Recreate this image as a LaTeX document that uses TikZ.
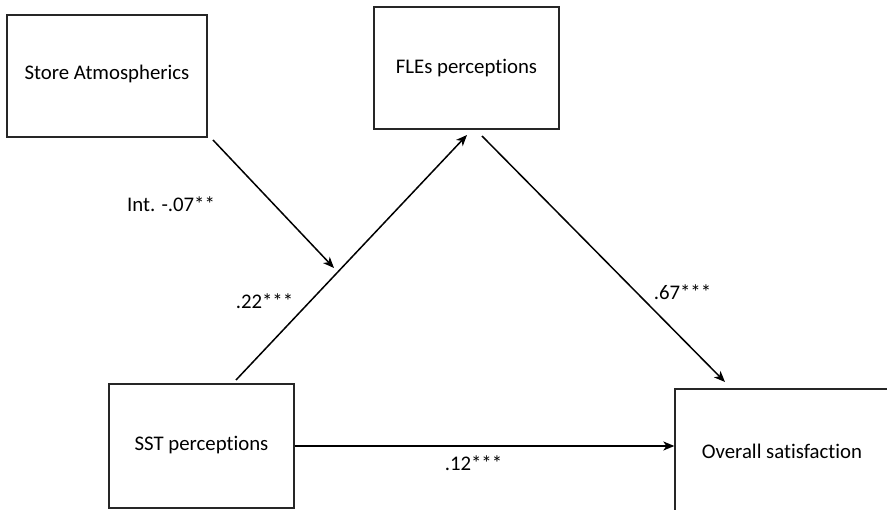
\documentclass[tikz,border=0pt]{standalone}
\usepackage{fontspec}
\setmainfont{Carlito}[Ligatures={NoCommon,NoRare,NoContextual}]
\usetikzlibrary{arrows.meta,calc}
\begin{document}
\begin{tikzpicture}[x=1pt,y=-1pt,
  box/.style={draw=black!85,line width=1.3pt,inner sep=0pt,font=\fontsize{20.8}{25}\selectfont},
  lbl/.style={inner sep=0pt,font=\fontsize{20.8}{25}\selectfont},
  arr/.style={line width=1.5pt,-{Stealth[length=11pt,width=9pt,inset=3pt]}}]
\path[use as bounding box,fill=white] (0,0) rectangle (887,510);
\node[box,minimum width=200pt,minimum height=122pt] (sa) at (107,76) {\raisebox{6.5pt}{Store Atmospherics}};
\node[box,minimum width=185pt,minimum height=122pt] (fle) at (466.5,68) {FLEs perceptions};
\node[box,minimum width=185pt,minimum height=124pt] (sst) at (201.5,446) {\raisebox{6pt}{SST perceptions}};
\begin{scope}
\clip (0,0) rectangle (887,510);
\node[box,minimum width=214pt,minimum height=142pt] (os) at (782,460) {\raisebox{17.5pt}{Overall satisfaction}};
\end{scope}
\coordinate (a1) at (213,140);
\coordinate (a2) at (334,268);
\coordinate (s1) at (236,380);
\coordinate (f1) at (467,135);
\coordinate (f2) at (482,136);
\coordinate (o1) at (725,382);
\draw[arr] (a1) -- (a2);
\draw[arr] (s1) -- (f1);
\draw[arr] (f2) -- (o1);
\draw[arr] (sst.east) -- (os.west |- sst.east);
\node[lbl] (l1) at (171,204) {Int. -.07**};
\node[lbl] (l2) at (264.5,301) {.22***};
\node[lbl] (l3) at (682.5,292) {.67***};
\node[lbl] (l4) at (473.5,463) {.12***};
\end{tikzpicture}
\end{document}
